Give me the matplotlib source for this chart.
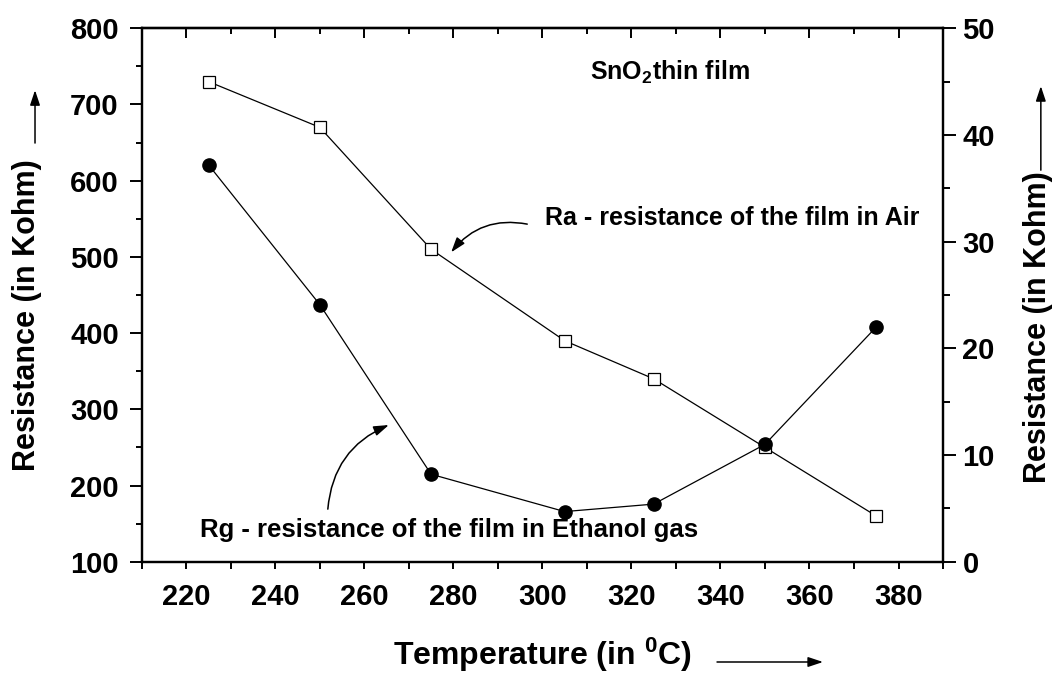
import numpy as np
import matplotlib.pyplot as plt
from matplotlib.ticker import MultipleLocator

plt.rcParams['font.family'] = 'Liberation Sans'
plt.rcParams['font.weight'] = 'bold'
plt.rcParams['mathtext.fontset'] = 'custom'
plt.rcParams['mathtext.rm'] = 'Liberation Sans:bold'
plt.rcParams['mathtext.it'] = 'Liberation Sans:bold'
plt.rcParams['mathtext.bf'] = 'Liberation Sans:bold'

# operating temperature (deg C)
temp = [225, 250, 275, 305, 325, 350, 375]
# resistance in air, left scale (kOhm)
r_air = [730, 670, 510, 390, 340, 250, 160]
# resistance in ethanol gas, right scale (kOhm)
r_gas = [37.2, 24.1, 8.2, 4.7, 5.4, 11.0, 22.0]

fig = plt.figure(figsize=(10.61, 6.78), dpi=100)
ax = fig.add_axes([0.1336, 0.1715, 0.7552, 0.7868])
ax2 = ax.twinx()

ax.plot(temp, r_air, color='k', lw=0.9, marker='s', ms=8.5,
        mfc='white', mec='k', mew=0.9, zorder=3)
ax2.plot(temp, r_gas, color='k', lw=0.9, marker='o', ms=9.5,
         mfc='k', mec='k', zorder=3)

ax.set_xlim(210, 390)
ax.set_ylim(100, 800)
ax2.set_ylim(0, 50)

ax.xaxis.set_major_locator(MultipleLocator(20))
ax.xaxis.set_minor_locator(MultipleLocator(10))
ax.yaxis.set_major_locator(MultipleLocator(100))
ax.yaxis.set_minor_locator(MultipleLocator(50))
ax2.yaxis.set_major_locator(MultipleLocator(10))
ax2.yaxis.set_minor_locator(MultipleLocator(5))

for a in (ax, ax2):
    for s in a.spines.values():
        s.set_linewidth(1.6)

ax.tick_params(axis='x', which='major', direction='out', length=5, width=1.4,
               labelsize=21, pad=10)
ax.tick_params(axis='x', which='minor', direction='out', length=5, width=1.4)
ax.tick_params(axis='y', which='major', direction='out', length=8.5, width=1.4,
               labelsize=21, pad=8)
ax.tick_params(axis='y', which='minor', direction='out', length=4.5, width=1.4)
ax2.tick_params(axis='y', which='major', direction='out', length=9, width=1.4,
                labelsize=21, pad=5)
ax2.tick_params(axis='y', which='minor', direction='out', length=5, width=1.4)

# ticks along the top edge point inward
top = ax.secondary_xaxis('top')
top.xaxis.set_major_locator(MultipleLocator(20))
top.xaxis.set_minor_locator(MultipleLocator(10))
top.tick_params(which='major', direction='in', length=7, width=1.4, labeltop=False)
top.tick_params(which='minor', direction='in', length=4.5, width=1.4)
top.spines['top'].set_linewidth(1.6)

# annotations
ax.text(310.7, 742.7, r'SnO$_2$thin film', fontsize=18, va='center', ha='left')
ax.text(300.6, 551, 'Ra - resistance of the film in Air', fontsize=18,
        va='center', ha='left')
ax.annotate('', xy=(279.5, 506), xytext=(296.6, 543),
            arrowprops=dict(arrowstyle='-|>,head_length=0.6,head_width=0.2',
                            connectionstyle='arc3,rad=0.3', color='k', lw=1.1,
                            mutation_scale=15, shrinkA=0, shrinkB=0))
ax.text(223.1, 141.6, 'Rg - resistance of the film in Ethanol gas', fontsize=18.5,
        va='center', ha='left')
ax.annotate('', xy=(265.5, 279.4), xytext=(251.8, 169),
            arrowprops=dict(arrowstyle='-|>,head_length=0.6,head_width=0.2',
                            connectionstyle='arc3,rad=-0.3', color='k', lw=1.1,
                            mutation_scale=15, shrinkA=0, shrinkB=0))

# axis titles with pointing arrows
arrow = dict(arrowstyle='-|>,head_length=0.6,head_width=0.2', color='k', lw=1.1,
             mutation_scale=15, shrinkA=0, shrinkB=0)
fig.text(0.511, 0.034, r'Temperature (in $^0$C)', fontsize=23, ha='center', va='center')
ax.annotate('', xy=(0.7757, 0.0236), xytext=(0.6758, 0.0236),
            xycoords='figure fraction', arrowprops=arrow, annotation_clip=False)
fig.text(0.0254, 0.535, 'Resistance (in Kohm)', fontsize=22, rotation=90,
         ha='center', va='center')
ax.annotate('', xy=(0.033, 0.867), xytext=(0.033, 0.789),
            xycoords='figure fraction', arrowprops=arrow, annotation_clip=False)
fig.text(0.978, 0.518, 'Resistance (in Kohm)', fontsize=22, rotation=90,
         ha='center', va='center')
ax.annotate('', xy=(0.981, 0.873), xytext=(0.981, 0.749),
            xycoords='figure fraction', arrowprops=arrow, annotation_clip=False)

fig.savefig('out.png', dpi=100)
